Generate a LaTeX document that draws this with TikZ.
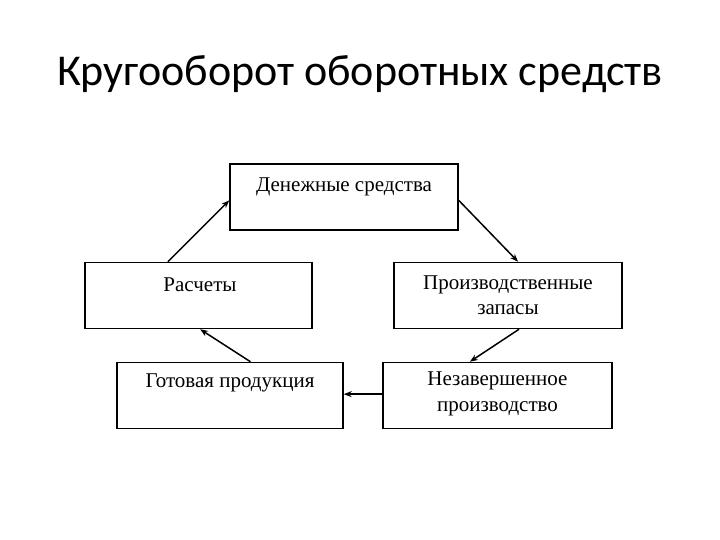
\documentclass[tikz,border=0pt]{standalone}
\usepackage{fontspec}
\setmainfont{Liberation Serif}
\newfontfamily\titlefont{Carlito}
\usetikzlibrary{calc,arrows.meta}
\begin{document}
\begin{tikzpicture}[x=1pt,y=-1pt,
  box/.style={draw=black,line width=1.5pt,minimum width=#1,minimum height=66pt,inner sep=0pt},
  lbl/.style={font=\fontsize{21}{25.5}\selectfont,align=center,inner sep=0pt},
  arr/.style={-{Stealth[length=8pt,width=6pt]},line width=1.5pt}]
\useasboundingbox (0,0) rectangle (720,540);
\node[font=\titlefont\fontsize{44}{50}\selectfont,anchor=base] (title) at (360,86) {Кругооборот оборотных средств};
\node[box=228pt] (d) at (344,197) {};
\node[box=227pt] (r) at (198.5,295.5) {};
\node[box=228pt] (p) at (508,295.5) {};
\node[box=226pt] (g) at (230,395.5) {};
\node[box=229pt] (n) at (497.5,395.5) {};
\node[lbl] (dt) at (344,187) {Денежные средства};
\node[lbl] (rt) at (200,285) {Расчеты};
\node[lbl] (pt) at (508,295) {Производственные\\запасы};
\node[lbl] (gt) at (230,383) {Готовая продукция};
\node[lbl] (nt) at (497.5,394) {Незавершенное\\производство};
\draw[arr] ($(r.north west)!0.366!(r.north east)$) -- ($(d.north west)!0.55!(d.south west)$);
\draw[arr] ($(d.north east)!0.55!(d.south east)$) -- ($(p.north west)!0.544!(p.north east)$);
\draw[arr] ($(p.south west)!0.548!(p.south east)$) -- ($(n.north west)!0.38!(n.north east)$);
\draw[arr] ($(n.north west)!0.48!(n.south west)$) -- ($(g.north east)!0.48!(g.south east)$);
\draw[arr] ($(g.north west)!0.59!(g.north east)$) -- ($(r.south west)!0.507!(r.south east)$);
\end{tikzpicture}
\end{document}
